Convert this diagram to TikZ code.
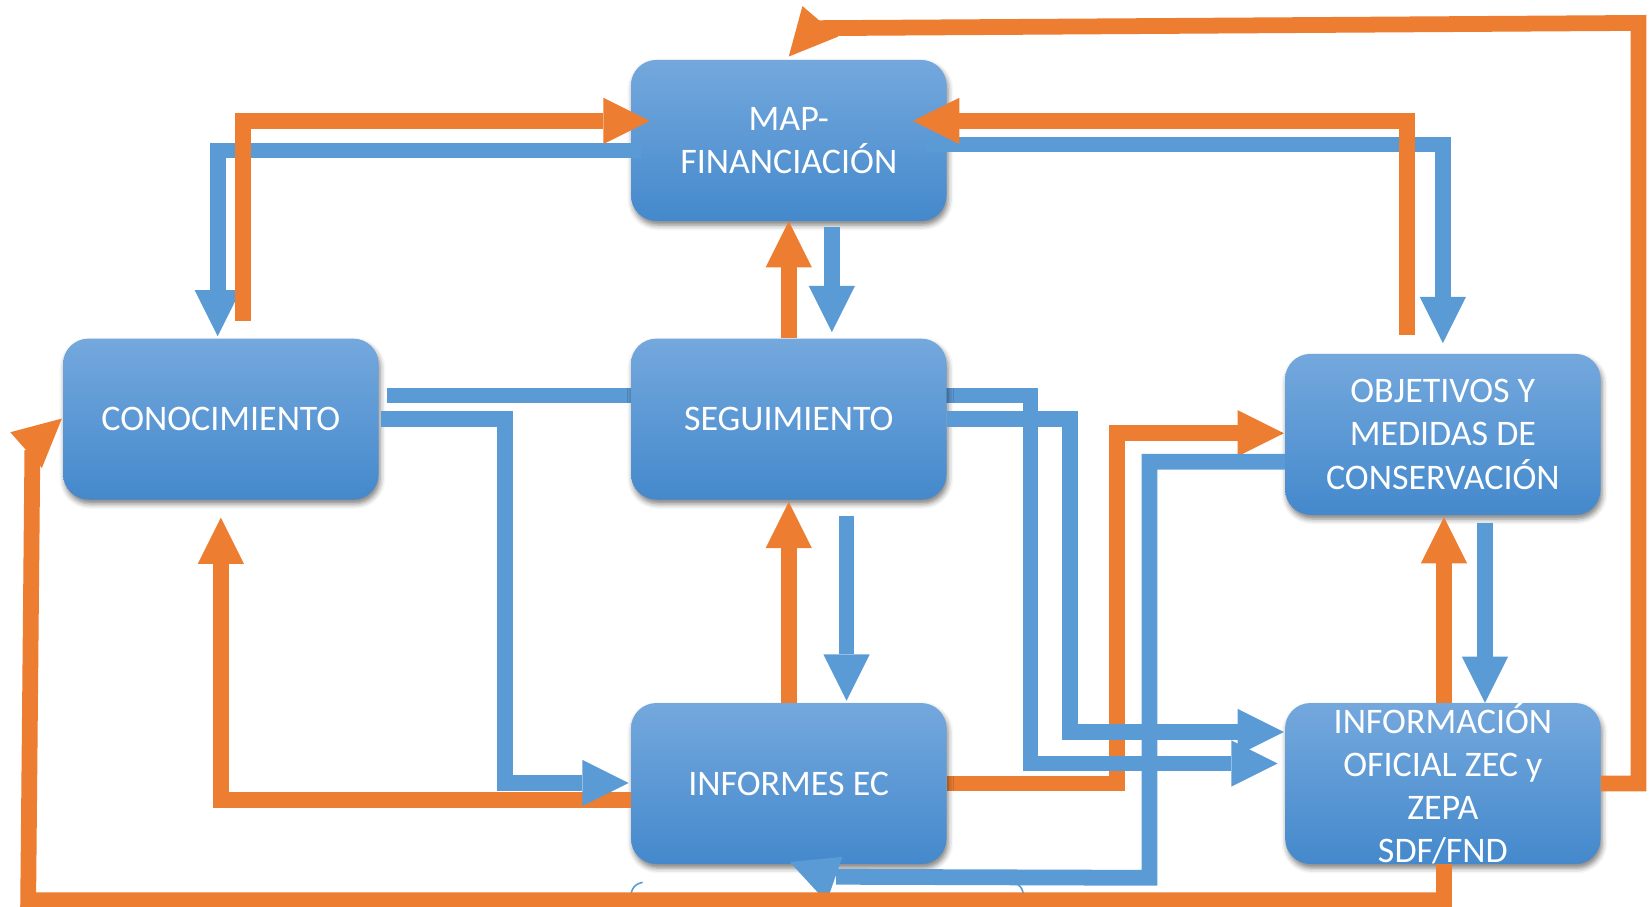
\documentclass[tikz,border=0pt]{standalone}
\usepackage{fontspec}
\setmainfont{Carlito}
\usetikzlibrary{arrows.meta,calc,shadows.blur,backgrounds}
\definecolor{orng}{RGB}{237,125,49}
\definecolor{blu}{RGB}{91,155,213}
\definecolor{boxtop}{RGB}{116,168,221}
\definecolor{boxbot}{RGB}{68,137,204}
\begin{document}
\begin{tikzpicture}[x=1pt,y=-1pt,
  box/.style={rounded corners=24pt, minimum width=300pt, minimum height=153pt,
    inner sep=0pt, top color=boxtop, bottom color=boxbot, draw=none,
    text=white, font=\fontsize{34.2}{41}\selectfont, align=center,
    blur shadow={shadow xshift=1.5pt, shadow yshift=-4pt, shadow blur radius=5pt, shadow opacity=50}},
  oline/.style={draw=orng, line width=15pt},
  bline/.style={draw=blu, line width=15pt},
  arr/.style={-{Triangle[width=44pt,length=44pt,line width=0pt]}},
  thinarc/.style={draw=blu, line width=1.5pt}]
\useasboundingbox (0,0) rectangle (1568,862);

\node[box] (map) at (750,133.5) {MAP-\\FINANCIACIÓN};
\node[box] (con) at (210,398.5) {CONOCIMIENTO};
\node[box] (seg) at (750,398.5) {SEGUIMIENTO};
\node[box] (obj) at (1372,413) {OBJETIVOS Y\\MEDIDAS DE\\CONSERVACIÓN};
\node[box] (inf) at (750,745) {INFORMES EC};
\node[box] (ofi) at (1372,745) {INFORMACIÓN\\OFICIAL ZEC y\\ZEPA\\SDF/FND};

\begin{pgfonlayer}{background}
\draw[oline,arr] (inf.east) -| ($(obj.west)+(-160,-1)$) -- ($(obj.west)+(-1,-1)$);
\draw[bline,arr] ($(con.east)+(8,-22.5)$) -| ($(ofi.west)+(-242,-19)$) -- ($(ofi.west)+(-7,-19)$);
\end{pgfonlayer}

% MAP <-> CONOCIMIENTO / OBJETIVOS
\draw[bline,arr] ($(map.west)+(10,9.5)$) -| ($(con.north)+(-3,-2)$);
\draw[bline,arr] ($(map.east)+(-20,4)$) -| ($(obj.north)+(0,-10)$);
\draw[oline,arr] ($(con.north)+(21,-17)$) |- ($(map.west)+(18,-18.5)$);
\draw[oline,arr] ($(obj.north)+(-34,-18)$) |- ($(map.east)+(-32,-18.5)$);
% MAP <-> SEGUIMIENTO
\draw[oline,arr] (seg.north) -- (map.south);
\draw[bline,arr] ($(map.south)+(41,6)$) -- ($(seg.north)+(41,-6)$);
% SEGUIMIENTO <-> INFORMES
\draw[oline,arr] (inf.north) -- ($(seg.south)+(0,2)$);
\draw[bline,arr] ($(seg.south)+(55,15)$) -- ($(inf.north)+(55,-2)$);
% INFORMES <-> CONOCIMIENTO
\draw[oline,arr] ($(inf.west)+(0,16)$) -| ($(con.south)+(0,17)$);
\draw[bline,arr] ($(con.east)+(2,0)$) -- ($(con.east)+(120,0)$) |- ($(inf.west)+(-2,-0.5)$);
% SEGUIMIENTO -> INFORMACION
\draw[bline,arr] (seg.east) -| ($(ofi.west)+(-204.5,-49)$) -- ($(ofi.west)+(-1,-49)$);
% OBJETIVOS -> INFORMES
\draw[bline] ($(obj.west)+(0,26)$) -| ($(inf.south)+(343,13)$) -- ($(inf.south)+(45,12)$);
\fill[blu] ($(inf.south)+(1,-2)$) -- ($(inf.south)+(51,-7)$) -- ($(inf.south)+(36,36)$) -- cycle;
% small arcs
\draw[thinarc] (611,839) .. controls (602,841) and (599,846) .. (599,862);
\draw[thinarc] (964,840) .. controls (971,841) and (974,846) .. (974,862);
% INFORMACION -> CONOCIMIENTO
\draw[oline] ($(ofi.south)+(1,0)$) |- ($(con.west)+(-33,457.5)$) -- ($(con.west)+(-29,29.5)$);
\fill[orng] ($(con.west)+(-1,-0.5)$) -- ($(con.west)+(-50,12.5)$) -- ($(con.west)+(-20,46.5)$) -- cycle;
% INFORMACION -> MAP
\draw[oline] (ofi.east) -| ($(map.north)+(808,-35)$) -- ($(map.north)+(26,-30)$);
\fill[orng] ($(map.north)+(0,-3)$) -- ($(map.north)+(13,-51)$) -- ($(map.north)+(47,-22)$) -- cycle;
% INFORMACION <-> OBJETIVOS
\draw[oline,arr] ($(ofi.north)+(1,0)$) -- ($(obj.south)+(1,2)$);
\draw[bline,arr] ($(obj.south)+(40,8)$) -- ($(ofi.north)+(40,0)$);
\end{tikzpicture}
\end{document}
